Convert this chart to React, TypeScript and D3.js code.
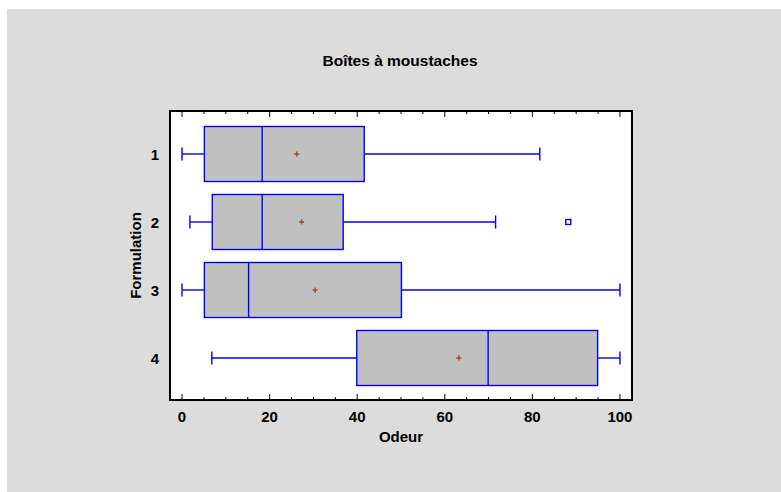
import React from "react";
import * as d3 from "d3";

const categories = ["1", "2", "3", "4"];
const whiskerLow = [0, 1.8, 0, 6.8];
const q1 = [5.1, 6.9, 5.1, 39.9];
const median = [18.3, 18.3, 15.2, 69.9];
const q3 = [41.6, 36.8, 50.1, 94.9];
const whiskerHigh = [81.7, 71.6, 100, 100];
const means = [26.2, 27.3, 30.4, 63.2];
const outliers: [string, number][] = [["2", 88.2]];
const xTicks = [0, 20, 40, 60, 80, 100];
const minorTicks = d3.range(0, 101, 5);

const W = 781, H = 492;
const plot = { left: 170, top: 111, right: 632, bottom: 400 };
const FONT = "'Liberation Sans', Arial, Helvetica, sans-serif";

export default function App() {
  const x = d3.scaleLinear().domain([-2.75, 102.75]).range([plot.left, plot.right]);
  const y = d3.scalePoint().domain(categories).range([154, 358]);
  const bh = 55;
  return (
    <svg width={W} height={H} style={{ position: "absolute", left: 0, top: 0 }} fontFamily={FONT}>
      <rect x={0} y={0} width={W} height={H} fill="#ffffff" />
      <rect x={7} y={9} width={W - 7} height={H - 9} fill="#dcdcdc" />
      <rect x={plot.left} y={plot.top} width={plot.right - plot.left} height={plot.bottom - plot.top} fill="#ffffff" />
      <text x={400} y={66} textAnchor="middle" fontSize={15.5} fontWeight="bold" fill="#000">Boîtes à moustaches</text>
      {minorTicks.map((t) => {
        const len = t % 20 === 0 ? 6 : 3;
        return (
          <g key={t} stroke="#000" strokeWidth={1}>
            <line x1={x(t)} x2={x(t)} y1={plot.top} y2={plot.top + len} />
            <line x1={x(t)} x2={x(t)} y1={plot.bottom} y2={plot.bottom - len} />
          </g>
        );
      })}
      {categories.map((c, i) => {
        const cy = y(c) as number;
        const top = cy - bh / 2;
        return (
          <g key={c} stroke="#0000ff" strokeWidth={1.4}>
            <line x1={x(whiskerLow[i])} x2={x(q1[i])} y1={cy} y2={cy} />
            <line x1={x(q3[i])} x2={x(whiskerHigh[i])} y1={cy} y2={cy} />
            <line x1={x(whiskerLow[i])} x2={x(whiskerLow[i])} y1={cy - 6.5} y2={cy + 6.5} />
            <line x1={x(whiskerHigh[i])} x2={x(whiskerHigh[i])} y1={cy - 6.5} y2={cy + 6.5} />
            <rect x={x(q1[i])} y={top} width={x(q3[i]) - x(q1[i])} height={bh} fill="#c0c0c0" />
            <line x1={x(median[i])} x2={x(median[i])} y1={top} y2={top + bh} />
            <g stroke="#a0522d" strokeWidth={1.6}>
              <line x1={x(means[i]) - 2.5} x2={x(means[i]) + 2.5} y1={cy} y2={cy} />
              <line x1={x(means[i])} x2={x(means[i])} y1={cy - 2.5} y2={cy + 2.5} />
            </g>
            <text x={159} y={cy + 5.5} textAnchor="end" fontSize={15} fontWeight="bold" fill="#000" stroke="none">{c}</text>
          </g>
        );
      })}
      {outliers.map(([c, v], k) => (
        <rect key={k} x={x(v) - 2.5} y={(y(c) as number) - 2.5} width={5} height={5} fill="none" stroke="#0000ff" strokeWidth={1.4} />
      ))}
      <rect x={plot.left} y={plot.top} width={plot.right - plot.left} height={plot.bottom - plot.top} fill="none" stroke="#000" strokeWidth={2} />
      {xTicks.map((t) => (
        <text key={t} x={x(t)} y={422} textAnchor="middle" fontSize={15} fontWeight="bold" fill="#000">{t}</text>
      ))}
      <text x={(plot.left + plot.right) / 2} y={441.5} textAnchor="middle" fontSize={15} fontWeight="bold" fill="#000">Odeur</text>
      <text transform={`translate(140.5,${(plot.top + plot.bottom) / 2}) rotate(-90)`} textAnchor="middle" fontSize={15} fontWeight="bold" fill="#000">Formulation</text>
    </svg>
  );
}
